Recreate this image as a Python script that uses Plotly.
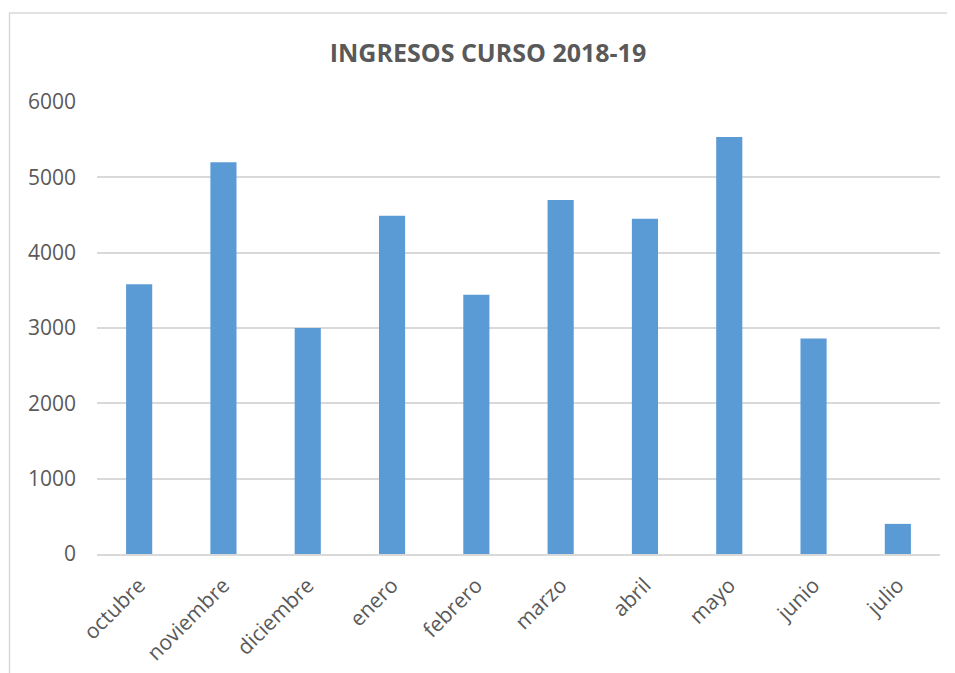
import plotly.graph_objects as go

months = ["octubre", "noviembre", "diciembre", "enero", "febrero", "marzo",
          "abril", "mayo", "junio", "julio"]
ingresos = [3580, 5200, 3000, 4490, 3440, 4700, 4450, 5535, 2860, 400]
y_ticks = [0, 1000, 2000, 3000, 4000, 5000, 6000]

W, H = 947, 665
L, R, T, B = 89, 15, 94, 119

fig = go.Figure(go.Bar(x=months, y=ingresos, marker_color="#5b9bd5",
                       marker_line_width=0, width=0.31))

pw = W - L - R
ph = H - T - B
def px_x(p): return (p - L) / pw
def px_y(p): return (H - B - p) / ph

fig.add_shape(type="rect", xref="paper", yref="paper",
              x0=px_x(1.5), x1=px_x(1200), y0=px_y(5), y1=px_y(900),
              line=dict(color="#d9d9d9", width=1.5), fillcolor="rgba(0,0,0,0)",
              layer="below")

fig.update_layout(
    width=W, height=H,
    margin=dict(l=L, r=R, t=T, b=B),
    paper_bgcolor="white", plot_bgcolor="white",
    title=dict(text="<b>INGRESOS CURSO 2018-19</b>", x=480 / W, xanchor="center",
               y=1 - 45 / H, yanchor="middle",
               font=dict(family="Open Sans, sans-serif", size=25, color="#595959")),
    font=dict(family="Open Sans, sans-serif", size=21, color="#595959"),
    showlegend=False,
    xaxis=dict(tickangle=-45, showgrid=False, showline=True, linecolor="#d9d9d9",
               linewidth=1.5, ticks="", tickfont=dict(size=21, color="#595959"),
               range=[-0.5, 9.5], ticklabelstandoff=9, automargin=False),
    yaxis=dict(range=[0, 6000], tickvals=y_ticks, showgrid=True, gridcolor="#d9d9d9",
               gridwidth=1.5, zeroline=False, showline=False, ticks="",
               tickfont=dict(size=21, color="#595959"), ticklabelstandoff=20,
               automargin=False),
)

fig.write_html("out.html", config={"displayModeBar": False})
